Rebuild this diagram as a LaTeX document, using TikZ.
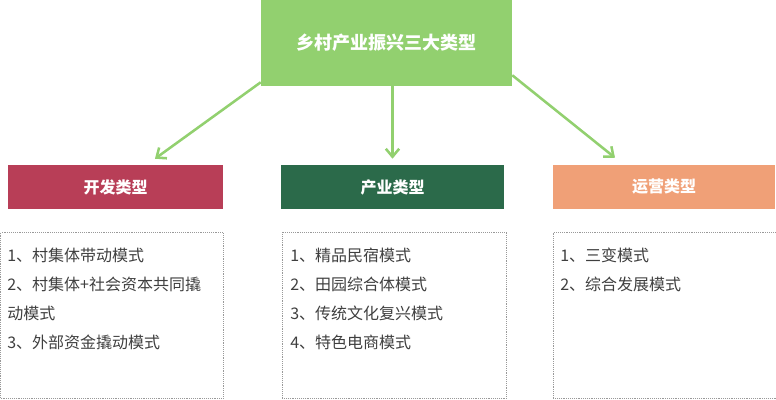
\documentclass[tikz,border=0pt]{standalone}
\usepackage{fontspec}
\setmainfont{Noto Sans CJK SC}
\usetikzlibrary{arrows.meta}
\usetikzlibrary{positioning}
\definecolor{topgreen}{HTML}{92D06F}
\definecolor{devred}{HTML}{B83E57}
\definecolor{indgreen}{HTML}{2B6A4A}
\definecolor{oporange}{HTML}{F0A077}
\definecolor{itemgray}{HTML}{3F3F3F}
\tikzset{
 head/.style={fill=#1, text=white, inner sep=0, minimum height=33pt, font=\bfseries\fontsize{12}{14}\selectfont},
 listbox/.style={draw=gray!80, densely dotted, inner sep=0, minimum height=124.5pt, anchor=north west},
 items/.style={text=itemgray, anchor=north west, inner sep=0, align=left, font=\fontsize{12}{21.75}\selectfont},
 arr/.style={topgreen, line width=1.9pt, -{Straight Barb[length=6pt, width=10pt]}}
}
\begin{document}
\begin{tikzpicture}[x=0.75pt, y=-0.75pt]
\useasboundingbox (0,0) rectangle (776,400);
\node[fill=topgreen, text=white, minimum width=188.25pt, minimum height=64.5pt, inner sep=0, font=\bfseries\fontsize{13.5}{16}\selectfont] (top) at (386.5,43) {乡村产业振兴三大类型};
\node[head=devred, minimum width=161.25pt] (kaifa) at (115.5,187) {开发类型};
\node[head=indgreen, minimum width=167.25pt] (chanye) at (392.5,187) {产业类型};
\node[head=oporange, minimum width=166.5pt] (yunying) at (664,187) {运营类型};
\node[listbox, minimum width=166.5pt] (kaifalist) at (0.5,232) {};
\node[listbox, minimum width=168pt] (chanyelist) at (282,232) {};
\node[listbox, minimum width=167.25pt] (yunyinglist) at (553,232) {};
\node[items] (kaifatext) at (7,248) {1、村集体带动模式\\2、村集体+社会资本共同撬\\动模式\\3、外部资金撬动模式};
\node[items] (chanyetext) at (290,248) {1、精品民宿模式\\2、田园综合体模式\\3、传统文化复兴模式\\4、特色电商模式};
\node[items] (yunyingtext) at (560,248) {1、三变模式\\2、综合发展模式};
\draw[arr] ([yshift=3pt]top.south west) -- ([xshift=29.6pt, yshift=4.5pt]kaifa.north);
\draw[arr] (top.south -| chanye.north) -- ([yshift=4.5pt]chanye.north);
\draw[arr] ([yshift=8.25pt]top.south east) -- ([xshift=-36.75pt, yshift=5.25pt]yunying.north);
\end{tikzpicture}
\end{document}
